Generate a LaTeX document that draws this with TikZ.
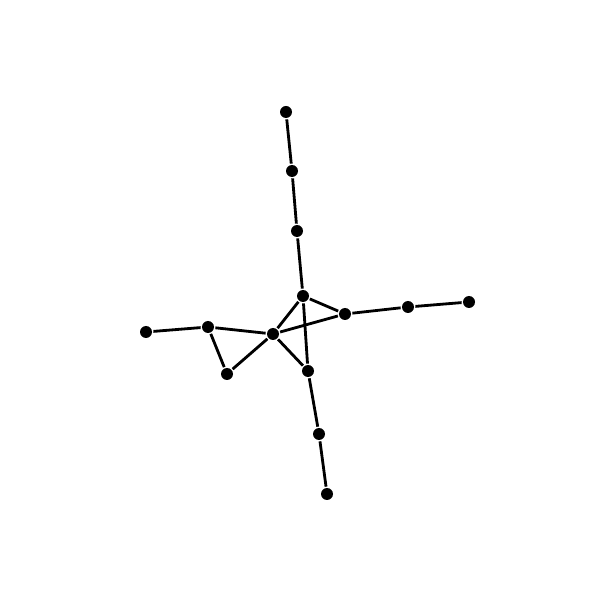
\documentclass[tikz,border=0pt]{standalone}
\tikzset{vtx/.style={circle,fill=black,inner sep=0pt,minimum size=0.12cm}}
\begin{document}
\begin{tikzpicture}[line width=0.8pt]
            \useasboundingbox (0,0) rectangle (6,6);
            \draw (2.86,4.88) node[vtx] (a) {};
            \draw (2.92,4.29) node[vtx] (b) {};
            \draw (2.97,3.69) node[vtx] (c) {};
            \draw (3.03,3.04) node[vtx] (d) {};
            \draw (3.45,2.86) node[vtx] (e) {};
            \draw (4.08,2.93) node[vtx] (f) {};
            \draw (4.69,2.98) node[vtx] (g) {};
            \draw (2.73,2.66) node[vtx] (h) {};
            \draw (2.08,2.73) node[vtx] (i) {};
            \draw (1.46,2.68) node[vtx] (j) {};
            \draw (2.27,2.26) node[vtx] (k) {};
            \draw (3.08,2.29) node[vtx] (l) {};
            \draw (3.19,1.66) node[vtx] (m) {};
            \draw (3.27,1.06) node[vtx] (n) {};

            \draw (a) -- (b);
            \draw (b) -- (c);
            \draw (c) -- (d);
            \draw (d) -- (e);
            \draw (e) -- (f);
            \draw (f) -- (g);
            \draw (d) -- (h);
            \draw (h) -- (e);
            \draw (h) -- (i);
            \draw (i) -- (j);
            \draw (i) -- (k);
            \draw (k) -- (h);
            \draw (h) -- (l);
            \draw (d) -- (l);
            \draw (l) -- (m);
            \draw (m) -- (n);
        \end{tikzpicture}
\end{document}
